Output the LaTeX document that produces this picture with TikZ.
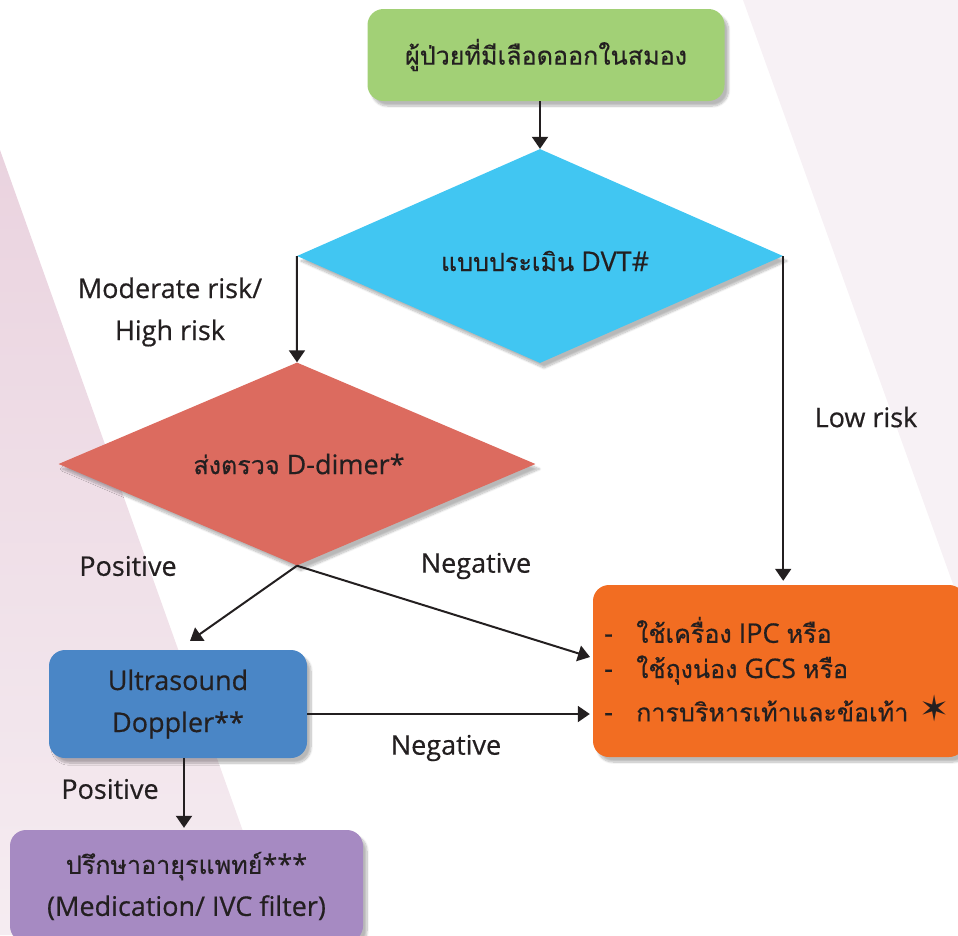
\documentclass[tikz,border=0pt]{standalone}
\usepackage{fontspec}
\setmainfont{Open Sans}[FakeBold=0.5]
\newfontfamily\thai[Script=Thai,Scale=0.93,FakeBold=0.5]{Loma}
\newfontfamily\symf{DejaVu Sans}
\usetikzlibrary{shapes.geometric,arrows.meta,shadows.blur,calc}
\definecolor{txt}{HTML}{231F20}
\definecolor{cgreen}{HTML}{A2D076}
\definecolor{cblue}{HTML}{41C6F2}
\definecolor{cred}{HTML}{DC6B5F}
\definecolor{corange}{HTML}{F26D22}
\definecolor{cus}{HTML}{4A86C6}
\definecolor{cpurple}{HTML}{A68AC2}
\definecolor{pinktop}{HTML}{EAD3DF}
\definecolor{pinkbot}{HTML}{F5ECF1}
\definecolor{greyright}{HTML}{F7F1F5}
\begin{document}
\begin{tikzpicture}[x=1pt,y=-1pt,
  font=\fontsize{27}{42}\selectfont, text=txt,
  sh/.style={blur shadow={shadow xshift=4pt,shadow yshift=-5pt,shadow blur steps=10,shadow opacity=28}},
  box/.style={draw=none,rounded corners=16pt,inner sep=0pt,align=center,sh},
  dia/.style={shape=diamond,draw=none,inner sep=0pt,sh},
  arr/.style={line width=2pt,draw=txt,-{Triangle[width=16pt,length=12pt]}},
  lbl/.style={inner sep=0pt,align=center}]
\useasboundingbox (0,0) rectangle (958,935);
\clip (0,0) rectangle (958,935);
% background
\fill[greyright] (743,0) -- (958,0) -- (958,598) -- cycle;
\shade[top color=pinktop,bottom color=pinkbot] (0,150) -- (280,935) -- (0,935) -- cycle;
% nodes
\node[box,fill=cgreen,minimum width=357pt,minimum height=92pt] (g) at (546,55) {{\thai ผู้ป่วยที่มีเลือดออกในสมอง}};
\node[dia,fill=cblue,minimum width=486pt,minimum height=214pt] (d1) at (540,256) {};
\node[lbl] (t1) at (545,261) {{\thai แบบประเมิน} DVT\#};
\node[dia,fill=cred,minimum width=477pt,minimum height=203pt] (d2) at (297,464) {};
\node[lbl] (t2) at (299,464) {{\thai ส่งตรวจ} D-dimer*};
\node[box,fill=corange,minimum width=372pt,minimum height=172pt] (o) at (779,671) {};
\node[box,fill=cus,minimum width=258pt,minimum height=108pt] (u) at (178,704) {Ultrasound\\Doppler**};
\node[box,fill=cpurple,minimum width=353pt,minimum height=112pt] (p) at (186.5,886) {{\thai ปรึกษาอายุรแพทย์}***\\(Medication/ IVC filter)};
% orange box text
\node[lbl,anchor=west] (o1) at (604,630) {\makebox[32pt][l]{-}{\thai ใช้เครื่อง} IPC {\thai หรือ}};
\node[lbl,anchor=west] (o2) at (604,670) {\makebox[32pt][l]{-}{\thai ใช้ถุงน่อง} GCS {\thai หรือ}};
\node[lbl,anchor=west] (o3) at (604,711) {\makebox[32pt][l]{-}{\thai การบริหารเท้าและข้อเท้า}};
\node[lbl] (star) at (935,708) {\fontsize{36}{36}\selectfont\symf ✶};
% connectors
\coordinate (pTip) at (190,641);
\coordinate (nTip) at (590,657);
\draw[arr] (d1.north |- g.south) -- (d1.north);
\draw[arr] (d1.west) -- (d2.north);
\draw[arr,shorten >=4pt] (d1.east) -- (d1.east |- o.north);
\draw[arr] (d2.south) -- (pTip);
\draw[arr] (d2.south) -- (nTip);
\draw[arr,shorten >=3pt] ([yshift=-10pt]u.east) -- ([yshift=-10pt]u.east -| o.west);
\draw[arr,shorten >=2pt] ([xshift=6pt]u.south) -- ([xshift=6pt]u.south |- p.north);
% labels
\node[lbl] (l1) at (170,312) {Moderate risk/\\High risk};
\node[lbl] (l2) at (866,417) {Low risk};
\node[lbl] (l3) at (128,566) {Positive};
\node[lbl] (l4) at (476,566) {Negative};
\node[lbl] (l5) at (446,748) {Negative};
\node[lbl] (l6) at (110,789) {Positive};
\end{tikzpicture}
\end{document}
